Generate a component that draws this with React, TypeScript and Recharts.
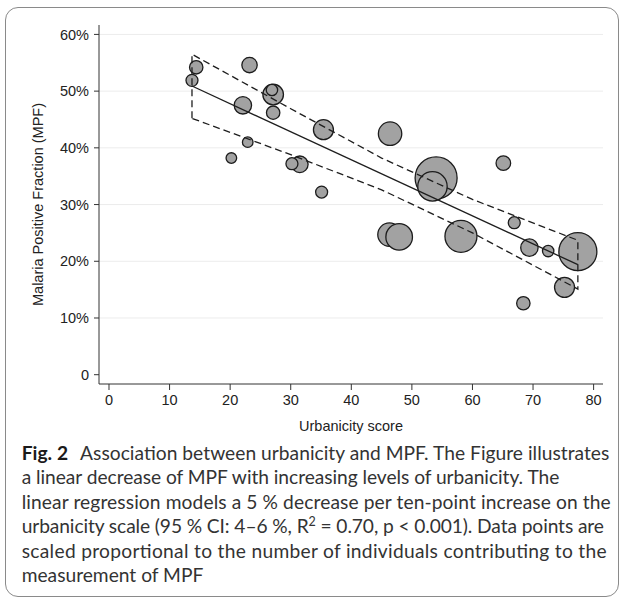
import React from 'react';
import { ComposedChart, Scatter, XAxis, YAxis, ZAxis, CartesianGrid } from 'recharts';

// Urbanicity score per site (x), malaria positive fraction in % (y), individuals (bubble size)
const urbanicity = [13.7, 14.4, 23.2, 22.1, 27.1, 26.9, 27.1, 22.9, 20.2, 31.5, 30.2, 35.4, 35.1, 46.4, 54.0, 53.4, 46.3, 47.9, 58.1, 65.1, 66.9, 69.4, 72.5, 77.4, 75.2, 68.4];
const mpf = [51.9, 54.2, 54.6, 47.5, 49.4, 50.2, 46.2, 41.0, 38.2, 37.1, 37.2, 43.2, 32.2, 42.5, 34.7, 33.2, 24.7, 24.3, 24.4, 37.3, 26.8, 22.4, 21.8, 21.7, 15.4, 12.6];
const individuals = [180, 224, 296, 378, 530, 162, 224, 140, 140, 344, 180, 500, 180, 684, 2205, 1080, 684, 884, 1280, 266, 180, 378, 162, 1805, 500, 224];

// Linear fit end points
const fitX = [13.7, 77.4];
const fitY = [50.9, 19.4];

// 95% CI band read along its length
const ciX = [13.7, 30, 45, 60, 77.4];
const ciUpper = [56.5, 46.9, 38.2, 30.9, 23.7];
const ciLower = [45.2, 38.8, 32.6, 25.0, 15.1];

const xTicks = [0, 10, 20, 30, 40, 50, 60, 70, 80];
const yTicks = [0, 10, 20, 30, 40, 50, 60];
const gridValues = [10, 20, 30, 40, 50, 60];

const bubbleData = urbanicity.map((x, i) => ({ x, y: mpf[i], n: individuals[i] }));
const fitData = fitX.map((x, i) => ({ x, y: fitY[i] }));
const bandData = [
  { x: ciX[0], y: ciLower[0] },
  ...ciX.map((x, i) => ({ x, y: ciUpper[i] })),
  ...ciX.map((x, i) => ({ x, y: ciLower[i] })).reverse(),
];

const axisFont = "'Liberation Sans', Arial, Helvetica, sans-serif";
const capFont = "Lato, 'Open Sans', sans-serif";

const Bubble = (p: any) => {
  const r = p.size ? Math.sqrt(p.size / Math.PI) : (p.width || 0) / 2;
  if (!isFinite(p.cx) || !isFinite(p.cy) || !isFinite(r)) return <g />;
  return <circle cx={p.cx} cy={p.cy} r={r} fill="#a2a2a2" stroke="#1c1c1c" strokeWidth={1.3} />;
};
const NoDot = () => <g />;

const YTitle = (props: any) => {
  const vb = props.viewBox || {};
  const cy = (vb.y ?? 25) + (vb.height ?? 359) / 2;
  return (
    <text
      x={37.5}
      y={cy}
      transform={`rotate(-90 37.5 ${cy})`}
      textAnchor="middle"
      dominantBaseline="central"
      fill="#222"
      fontSize={14.5}
      fontFamily={axisFont}
    >
      Malaria Positive Fraction (MPF)
    </text>
  );
};

export default function App() {
  return (
    <div style={{ position: 'absolute', left: 0, top: 0, width: 624, height: 608, background: '#fff' }}>
      <div
        style={{
          position: 'absolute',
          left: 5,
          top: 7,
          width: 614,
          height: 590,
          border: '1.5px solid #8a8a8a',
          borderRadius: 13,
          boxSizing: 'border-box',
        }}
      />
      <div style={{ position: 'absolute', left: 0, top: 0 }}>
        <ComposedChart width={624} height={440} margin={{ top: 25, right: 21, left: 0, bottom: 0 }}>
          <CartesianGrid horizontal vertical={false} horizontalValues={gridValues} stroke="#ececec" />
          <XAxis
            type="number"
            dataKey="x"
            domain={[-1.65, 81.55]}
            allowDataOverflow
            ticks={xTicks}
            interval={0}
            height={56}
            tickSize={6}
            tickMargin={5}
            axisLine={{ stroke: '#333' }}
            tickLine={{ stroke: '#333' }}
            tick={{ fill: '#222', fontSize: 14.5, fontFamily: axisFont }}
            label={{ value: 'Urbanicity score', position: 'insideBottom', offset: 9, fill: '#222', fontSize: 14.5, fontFamily: axisFont }}
          />
          <YAxis
            type="number"
            dataKey="y"
            domain={[-1.64, 61.66]}
            allowDataOverflow
            ticks={yTicks}
            interval={0}
            width={99}
            tickSize={5}
            tickMargin={5}
            tickFormatter={(v: number) => (v === 0 ? '0' : `${v}%`)}
            axisLine={{ stroke: '#333' }}
            tickLine={{ stroke: '#333' }}
            tick={{ fill: '#222', fontSize: 14.5, fontFamily: axisFont }}
            label={<YTitle />}
          />
          <ZAxis type="number" dataKey="n" domain={[0, 2205]} range={[0, Math.PI * 21 * 21]} />
          <Scatter data={bubbleData} shape={Bubble} isAnimationActive={false} />
          <Scatter
            data={bandData}
            shape={NoDot}
            line={{ stroke: '#1e1e1e', strokeWidth: 1.3, strokeDasharray: '7 4' }}
            lineType="joint"
            isAnimationActive={false}
          />
          <Scatter
            data={fitData}
            shape={NoDot}
            line={{ stroke: '#1e1e1e', strokeWidth: 1.3 }}
            lineType="joint"
            isAnimationActive={false}
          />
        </ComposedChart>
      </div>
      <svg width={624} height={608} style={{ position: 'absolute', left: 0, top: 0, pointerEvents: 'none' }}>
        <g fontFamily={capFont} fontSize={19.2} fill="#333">
          <text x={21.7} y={460} textLength={587.6} lengthAdjust="spacing">
            <tspan fontWeight="bold" fill="#1a1a1a">Fig. 2</tspan>
            <tspan dx={12}>Association between urbanicity and MPF. The Figure illustrates</tspan>
          </text>
          <text x={21.7} y={484.4} textLength={537.6} lengthAdjust="spacing">a linear decrease of MPF with increasing levels of urbanicity. The</text>
          <text x={21.7} y={508.8} textLength={589} lengthAdjust="spacing">linear regression models a 5 % decrease per ten-point increase on the</text>
          <text x={21.7} y={533.2} textLength={582.3} lengthAdjust="spacing">
            urbanicity scale (95 % CI: 4–6 %, R
            <tspan dy={-7} fontSize={12.5}>2</tspan>
            <tspan dy={7}> = 0.70, p &lt; 0.001). Data points are</tspan>
          </text>
          <text x={21.7} y={557.6} textLength={585} lengthAdjust="spacing">scaled proportional to the number of individuals contributing to the</text>
          <text x={21.7} y={582}>measurement of MPF</text>
        </g>
      </svg>
    </div>
  );
}
